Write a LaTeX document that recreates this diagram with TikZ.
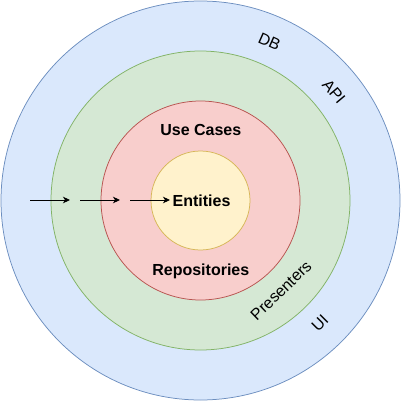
\documentclass[tikz,border=0pt]{standalone}
\usepackage{fontspec}
\setmainfont{Liberation Sans}
\usetikzlibrary{arrows.meta}

\definecolor{dbfill}{HTML}{DAE8FC}
\definecolor{dbline}{HTML}{6C8EBF}
\definecolor{apifill}{HTML}{D5E8D4}
\definecolor{apiline}{HTML}{82B366}
\definecolor{casefill}{HTML}{F8CECC}
\definecolor{caseline}{HTML}{B85450}
\definecolor{entfill}{HTML}{FFF2CC}
\definecolor{entline}{HTML}{D6B656}

\tikzset{
  ring/.style={circle, inner sep=0pt, line width=0.75pt},
  lbl/.style={font=\fontsize{16}{19}\selectfont, inner sep=0pt},
  boldlbl/.style={font=\fontsize{16}{19}\selectfont\bfseries, inner sep=0pt, anchor=base},
  link/.style={-{Stealth[length=7pt, width=6.5pt, inset=2pt]}, line width=0.9pt}
}

\begin{document}
\begin{tikzpicture}[x=1pt, y=-1pt]
	\useasboundingbox (0,0) rectangle (402,402);

	% rings, outside in
	\node[ring, fill=dbfill, draw=dbline, minimum size=399pt] (db) at (200.5,200.5) {};
	\node[ring, fill=apifill, draw=apiline, minimum size=299pt] (api) at (200.5,200.5) {};
	\node[ring, fill=casefill, draw=caseline, minimum size=199pt] (cases) at (200.5,200.5) {};
	\node[ring, fill=entfill, draw=entline, minimum size=99pt] (ent) at (200.5,200.5) {};

	% inner labels
	\node[boldlbl] (usecases) at (200.8,135.7) {Use Cases};
	\node[boldlbl] (entities) at (201.5,206) {Entities};
	\node[boldlbl] (repos) at (200.8,275.7) {Repositories};

	% labels along the rings
	\node[lbl, rotate=-24] (dblbl) at (269.5,41.5) {DB};
	\node[lbl, rotate=-50] (apilbl) at (334,91.5) {API};
	\node[lbl, rotate=44] (preslbl) at (281,290.5) {Presenters};
	\node[lbl, rotate=45] (uilbl) at (320,323.5) {UI};

	% dependency arrows
	\coordinate (s1) at (30,200);
	\coordinate (t1) at (70,200);
	\coordinate (s2) at (80,200);
	\coordinate (t2) at (120,200);
	\coordinate (s3) at (130,200);
	\coordinate (t3) at (170,200);
	\draw[link] (s1) -- (t1);
	\draw[link] (s2) -- (t2);
	\draw[link] (s3) -- (t3);

\end{tikzpicture}
\end{document}
